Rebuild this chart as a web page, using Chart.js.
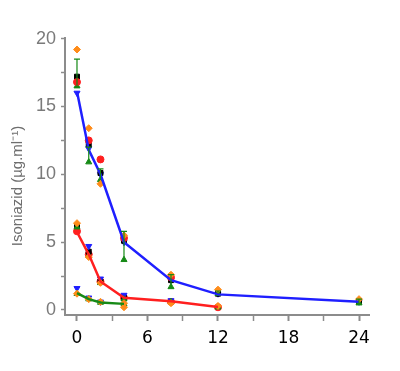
<!DOCTYPE html>
<html>
<head>
<meta charset="utf-8">
<script src="https://cdn.jsdelivr.net/npm/chart.js@4"></script>
<style>
  html, body { margin: 0; padding: 0; background: #fff; }
  #wrap { width: 400px; height: 371px; position: relative; }
</style>
</head>
<body>
<div id="wrap"><canvas id="chart"></canvas></div>
<script>
/* ================= DATA ================= */
const hours    = [0, 1, 2, 4, 8, 12, 24];
const meanHigh = [16.1, 11.8, 10.0, 5.0, 2.2, 1.15, 0.6];
const meanMid  = [5.75, 4.1, 2.1, 0.9, 0.65, 0.22];
const meanLow  = [1.25, 0.8, 0.55, 0.45];

// individual subjects (same hours, null = not shown)
const orangeHigh = [19.2, 13.4, 9.3, 5.5, 2.6, 1.5, 0.8];
const redHigh    = [16.8, 12.5, 11.1, 5.3, 2.4, null, null];
const greenHigh  = [16.5, 10.9, 9.6, 3.7, 1.7, 1.2, 0.5];
const blackHigh  = [17.2, 12.2, 10.1, 5.1, 2.2, 1.2, 0.6];
const blueHigh   = [16.0, 11.9, 10.0, 5.0, 2.2, 1.2, 0.6];

const orangeMid = [6.4, 3.9, 2.0, 0.5, 0.5, 0.3];
const greenMid  = [6.1, 4.0, 2.0, 0.8, 0.6, 0.2];
const blueMid   = [null, 4.7, 2.3, 1.1, 0.7, null];
const blackMid  = [6.2, 4.3, 2.1, 0.9, null, null];
const redMid    = [5.8, 4.1, 2.1, 0.9, 0.6, 0.2];

const orangeLow = [1.2, 0.8, 0.6, 0.2];
const greenLow  = [1.2, 0.8, 0.55, 0.45];
const blueLow   = [1.6, 0.9, 0.6, 0.7];

// green error bars (high group)
const errTop = [18.5, 12.0, 10.4, 5.8, 2.6, 1.4, 0.8];

const xTicks = [0, 3, 6, 9, 12, 15, 18, 21, 24];
const yTicks = [0, 2.5, 5, 7.5, 10, 12.5, 15, 17.5, 20];
const yTitle = "Isoniazid (µg.ml⁻¹)";

/* ================= HELPERS ================= */
const pts = (vals) => vals.map((v, i) => ({ x: hours[i], y: v })).filter(p => p.y !== null);

function markers(vals, color, style, rot) {
  return {
    type: "scatter",
    data: pts(vals),
    pointStyle: style,
    rotation: rot || 0,
    pointRadius: 3.5,
    backgroundColor: color,
    borderColor: color,
    borderWidth: 1,
    order: 2
  };
}

function curve(vals, color) {
  return {
    type: "line",
    data: pts(vals),
    borderColor: color,
    borderWidth: 2.5,
    pointRadius: 0,
    tension: 0,
    order: 0
  };
}

const C_ORANGE = "#ff8c1a", C_RED = "#ff1f1f", C_GREEN = "#168a16", C_BLUE = "#1f1fff", C_BLACK = "#000";

/* ================= PLUGINS ================= */
const errorBars = {
  id: "errorBars",
  afterDatasetsDraw(chart) {
    const { ctx, scales: { x, y } } = chart;
    ctx.save();
    ctx.strokeStyle = C_GREEN;
    ctx.lineWidth = 1.2;
    errTop.forEach((top, i) => {
      const px = x.getPixelForValue(hours[i]);
      const y0 = y.getPixelForValue(greenHigh[i]);
      const y1 = y.getPixelForValue(top);
      ctx.beginPath();
      ctx.moveTo(px, y0); ctx.lineTo(px, y1);
      ctx.moveTo(px - 3, y1); ctx.lineTo(px + 3, y1);
      ctx.stroke();
    });
    ctx.restore();
  }
};

const yLabel = {
  id: "yLabel",
  afterDraw(chart) {
    const ctx = chart.ctx;
    ctx.save();
    ctx.translate(18, 186);
    ctx.rotate(-Math.PI / 2);
    ctx.font = "15px 'Liberation Sans', Arial, sans-serif";
    ctx.fillStyle = "#6e6e6e";
    ctx.textAlign = "center";
    ctx.textBaseline = "middle";
    ctx.fillText(yTitle, 0, 0);
    ctx.restore();
  }
};

/* ================= CHART ================= */
new Chart(document.getElementById("chart"), {
  data: {
    datasets: [
      curve(meanHigh, C_BLUE),
      curve(meanMid, C_RED),
      curve(meanLow, C_GREEN),
      markers(orangeHigh, C_ORANGE, "rectRot"),
      markers(redHigh, C_RED, "circle"),
      markers(greenHigh, C_GREEN, "triangle"),
      markers(blackHigh, C_BLACK, "rect"),
      markers(blueHigh, C_BLUE, "triangle", 180),
      markers(orangeMid, C_ORANGE, "rectRot"),
      markers(greenMid, C_GREEN, "triangle"),
      markers(blueMid, C_BLUE, "triangle", 180),
      markers(blackMid, C_BLACK, "rect"),
      markers(redMid, C_RED, "circle"),
      markers(orangeLow, C_ORANGE, "rectRot"),
      markers(greenLow, C_GREEN, "triangle"),
      markers(blueLow, C_BLUE, "triangle", 180)
    ]
  },
  options: {
    responsive: true,
    maintainAspectRatio: false,
    animation: false,
    layout: { padding: { top: 38, right: 31, left: 0, bottom: 0 } },
    plugins: { legend: { display: false }, tooltip: { enabled: false } },
    scales: {
      x: {
        type: "linear",
        min: -1.02,
        max: 24.85,
        afterBuildTicks: s => { s.ticks = xTicks.map(v => ({ value: v })); },
        afterFit: s => { s.height = 56; },
        border: { color: "#8c8c8c", width: 2 },
        grid: {
          drawOnChartArea: false,
          tickLength: 6,
          tickColor: "#8c8c8c",
          tickWidth: ctx => (ctx.tick && ctx.tick.value % 6 === 0 ? 2 : 1.5)
        },
        ticks: {
          padding: 7,
          color: "#000",
          font: { family: "'DejaVu Sans'", size: 17 },
          maxRotation: 0,
          autoSkip: false,
          callback: v => (v % 6 === 0 ? String(v) : "")
        }
      },
      y: {
        type: "linear",
        min: -0.37,
        max: 20.05,
        afterBuildTicks: s => { s.ticks = yTicks.map(v => ({ value: v })); },
        afterFit: s => { s.width = 65; },
        border: { color: "#8c8c8c", width: 2 },
        grid: {
          drawOnChartArea: false,
          tickLength: 4,
          tickColor: "#8c8c8c",
          tickWidth: 1.5
        },
        ticks: {
          padding: 5,
          color: "#7a7a7a",
          font: { family: "'Liberation Sans'", size: 18 },
          autoSkip: false,
          callback: v => (v % 5 === 0 ? String(v) : "")
        }
      }
    }
  },
  plugins: [errorBars, yLabel]
});
</script>
</body>
</html>
